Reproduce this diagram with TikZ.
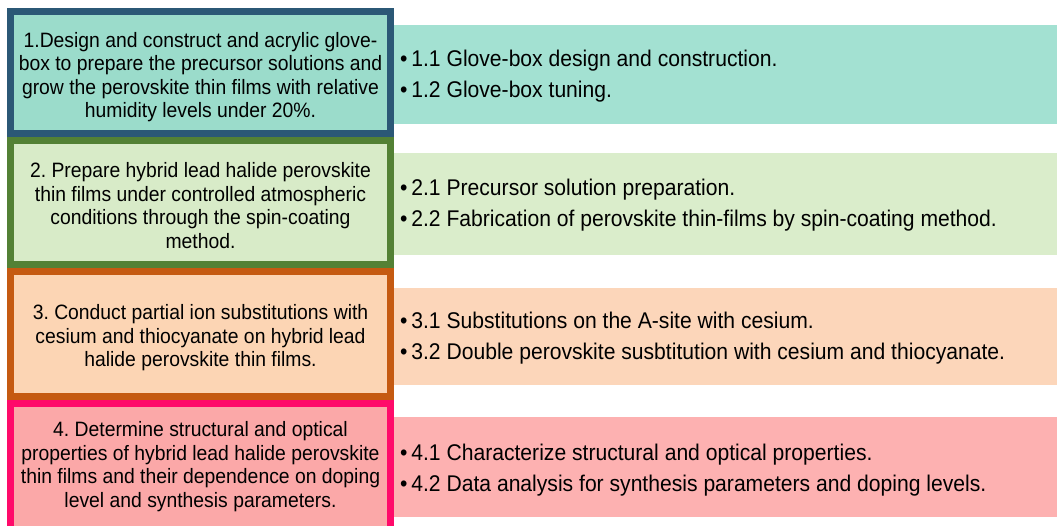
\documentclass[tikz,border=0pt]{standalone}
\usepackage{fontspec}
\setmainfont{Liberation Sans}[FakeStretch=0.93]
\usetikzlibrary{positioning}
\frenchspacing

\definecolor{glovefill}{HTML}{9BDCCB}
\definecolor{gloveline}{HTML}{2B5876}
\definecolor{glovetask}{HTML}{A3E1D2}
\definecolor{filmfill}{HTML}{D8EBC8}
\definecolor{filmline}{HTML}{538135}
\definecolor{filmtask}{HTML}{DAEDCB}
\definecolor{subsfill}{HTML}{FCD5B4}
\definecolor{subsline}{HTML}{C55A11}
\definecolor{substask}{HTML}{FCD6BA}
\definecolor{charfill}{HTML}{FBA8A8}
\definecolor{charline}{HTML}{FF0A6A}
\definecolor{chartask}{HTML}{FDB1B1}

% text hung from the top of a box: height, top gap, text
\newcommand{\objtext}[3]{\parbox[c][#1][t]{376pt}{\centering\vspace*{#2}\strut #3}}
\newcommand{\tasktext}[3]{\parbox[c][#1][t]{660pt}{\raggedright\vspace*{#2}\strut #3}}

\tikzset{
  objective/.style={draw, line width=7pt, minimum width=380pt, inner sep=0pt,
    font=\fontsize{20.8}{23.5}\selectfont},
  tasks/.style={inner xsep=6pt, inner ysep=0pt, font=\fontsize{22.7}{31}\selectfont},
}

\begin{document}
\begin{tikzpicture}[x=1pt, y=-1pt]
          \useasboundingbox (0,0) rectangle (1057,526);
          \clip (0,0) rectangle (1057,526);

          % objectives
          \node[objective, fill=glovefill, draw=gloveline] (obj_glovebox) at (200.5,73)
               {\objtext{122pt}{19pt}{1.Design and construct and acrylic glove-\\box to prepare the precursor solutions and\\grow the perovskite thin films with relative\\humidity levels under 20\%.}};

          \node[objective, fill=filmfill, draw=filmline, below=0pt of obj_glovebox] (obj_films)
               {\objtext{124pt}{20.5pt}{2. Prepare hybrid lead halide perovskite\\thin films under controlled atmospheric\\conditions through the spin-coating\\method.}};

          \node[objective, fill=subsfill, draw=subsline, below=0pt of obj_films] (obj_substitution)
               {\objtext{124pt}{31.5pt}{3. Conduct partial ion substitutions with\\cesium and thiocyanate on hybrid lead\\halide perovskite thin films.}};

          \node[objective, fill=charfill, draw=charline, below=0pt of obj_substitution] (obj_properties)
               {\objtext{128pt}{17.5pt}{4. Determine structural and optical\\properties of hybrid lead halide perovskite\\thin films and their dependence on doping\\level and synthesis parameters.}};

          % tasks
          \node[tasks, fill=glovetask, right=0pt of obj_glovebox, yshift=-1.5pt] (tasks_glovebox)
               {\tasktext{99pt}{19.8pt}{•\,1.1 Glove-box design and construction.\\•\,1.2 Glove-box tuning.}};

          \node[tasks, fill=filmtask, right=0pt of obj_films, yshift=-1pt] (tasks_films)
               {\tasktext{102pt}{21pt}{•\,2.1 Precursor solution preparation.\\•\,2.2 Fabrication of perovskite thin-films by spin-coating method.}};

          \node[tasks, fill=substask, right=0pt of obj_substitution, yshift=-2.5pt] (tasks_substitution)
               {\tasktext{97pt}{19.3pt}{•\,3.1 Substitutions on the A-site with cesium.\\•\,3.2 Double perovskite susbtitution with cesium and thiocyanate.}};

          \node[tasks, fill=chartask, right=0pt of obj_properties] (tasks_properties)
               {\tasktext{100pt}{21.3pt}{•\,4.1 Characterize structural and optical properties.\\•\,4.2 Data analysis for synthesis parameters and doping levels.}};

   \end{tikzpicture}
\end{document}
